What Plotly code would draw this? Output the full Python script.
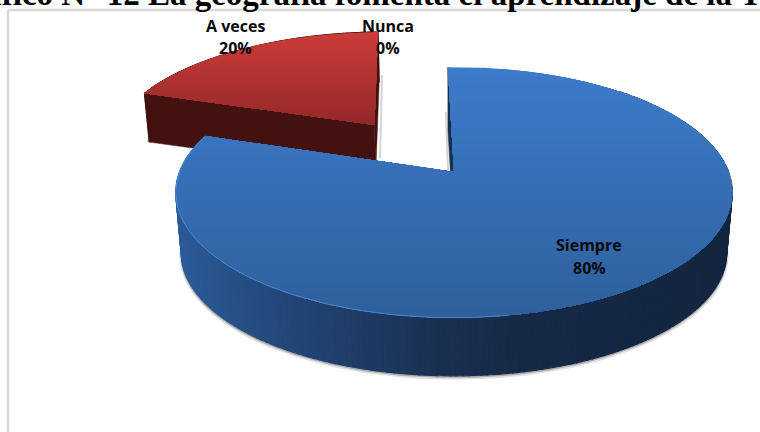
import numpy as np
import plotly.graph_objects as go

categories = ["Siempre", "A veces", "Nunca"]
values = [80, 20, 0]
percent_labels = ["80%", "20%", "0%"]
pulls = [0.0, 0.515, 0.0]
title_text = "Gráfico N° 12 La geografía fomenta el aprendizaje de la Tierra"

# projection of the tilted pie onto the pixel-sized axes
X0, Y0, R, K, P, DEPTH, SHRINK = 454, 172, 274.5, 122, 0.163, 61, 0.02
START = -1.5
RED_TURN = 1.5
BLUE_WIDEN = 1.5
RED_NARROW = 1.8


def hex2rgb(c):
    return np.array([int(c[i:i + 2], 16) for i in (1, 3, 5)], float)


def ramp(t, stops):
    ts = [s[0] for s in stops]
    rgb = [np.interp(t, ts, [hex2rgb(s[1])[i] for s in stops]) for i in range(3)]
    return "rgb(%d,%d,%d)" % tuple(rgb)


def project(a_deg, r, z, pull, mid_deg):
    a = np.radians(a_deg)
    m = np.radians(mid_deg)
    u = r * np.sin(a) + pull * np.sin(m)
    v = r * np.cos(a) + pull * np.cos(m)
    w = 1 + P * v
    s = 1 - SHRINK * z
    return X0 + s * R * u / w, Y0 + DEPTH * z - s * K * v / w


def clip_below(xs, ys, y0):
    ox, oy = [], []
    n = len(xs)
    for i in range(n):
        x1, y1, x2, y2 = xs[i], ys[i], xs[(i + 1) % n], ys[(i + 1) % n]
        if y1 >= y0:
            ox.append(x1)
            oy.append(y1)
        if (y1 >= y0) != (y2 >= y0):
            t = (y0 - y1) / (y2 - y1)
            ox.append(x1 + t * (x2 - x1))
            oy.append(y0)
    return ox, oy


fig = go.Figure()


def poly(xs, ys, color, lw=0.0, fill=True):
    fig.add_trace(go.Scatter(
        x=list(xs), y=list(ys), mode="lines", hoverinfo="skip", showlegend=False,
        fill="toself" if fill else None, fillcolor=color if fill else None,
        line=dict(color=color, width=lw)))


def stroke(xs, ys, color, lw):
    fig.add_trace(go.Scatter(x=list(xs), y=list(ys), mode="lines", hoverinfo="skip",
                             showlegend=False, line=dict(color=color, width=lw)))


def slab(a0, a1, pull, height, top_stops, side_fn, rim=None, shadow=None):
    mid = (a0 + a1) / 2
    angles = np.linspace(a0, a1, 260)
    if shadow:
        lo = angles[(angles > shadow[0]) & (angles < shadow[1])]
        sx, sy = project(lo, 1, height, pull, mid)
        stroke(sx, sy + 2, "rgba(90,90,90,0.18)", 4)
        stroke(sx, sy + 1.2, "rgba(70,70,70,0.35)", 2)
    # side wall, back to front
    order = sorted(range(len(angles) - 1), key=lambda i: -np.cos(np.radians(angles[i])))
    for i in order:
        a, b = angles[i], angles[i + 1]
        if np.cos(np.radians(a)) > 0.75 and pull == 0:
            continue
        xa, ya = project(a, 1, 0, pull, mid)
        xb, yb = project(b, 1, 0, pull, mid)
        xc, yc = project(b, 1, height, pull, mid)
        xd, yd = project(a, 1, height, pull, mid)
        poly([xa, xb, xc, xd, xa], [ya, yb, yc, yd, ya], side_fn((xa + xb) / 2), 1.2)
    # straight cut walls
    for a in (a0, a1):
        pts = [project(a, 1, 0, pull, mid), project(a, 0, 0, pull, mid),
               project(a, 0, height, pull, mid), project(a, 1, height, pull, mid)]
        xs = [p[0] for p in pts]
        ys = [p[1] for p in pts]
        poly(xs + xs[:1], ys + ys[:1], side_fn(sum(xs) / 4), 0.5)
    # top surface painted in vertical-gradient bands
    tx, ty = project(angles, 1.0, 0, pull, mid)
    ax, ay = project(0, 0, 0, pull, mid)
    xs = list(tx) + [ax]
    ys = list(ty) + [ay]
    y_min, y_max = min(ys), max(ys)
    for y in np.arange(y_min, y_max, 2.0):
        cx, cy = clip_below(xs, ys, y)
        if len(cx) > 2:
            t = (y - y_min) / (y_max - y_min)
            poly(cx + cx[:1], cy + cy[:1], ramp(t, top_stops), 0)
    if rim:
        arc = angles[(angles > rim[0]) & (angles < rim[1])]
        rx, ry = project(arc, 1, 0, pull, mid)
        stroke(rx, ry, rim[2], 1)


def blue_side(x):
    return ramp(x, [(176, "#2c5c9a"), (270, "#24497b"), (350, "#1f3d67"),
                    (440, "#1a3050"), (520, "#162a46"), (733, "#14263f")])


def red_side(x):
    return "#431210"


total = sum(values)
angle_of_red_start = START + RED_TURN + 360 * values[0] / total
angle_of_red_end = angle_of_red_start + 360 * values[1] / total - RED_NARROW

# soft drop shadows beside the cut edges
SHADOW = "#d4d4d4"
fig.add_shape(type="line", x0=382, x1=380, y0=75, y1=158, layer="below", line=dict(color=SHADOW, width=2))
fig.add_shape(type="line", x0=147, x1=196, y0=141, y1=141, layer="below", line=dict(color=SHADOW, width=2))
fig.add_shape(type="line", x0=446, x1=448, y0=112, y1=170, layer="below", line=dict(color=SHADOW, width=2))

slab(angle_of_red_start, angle_of_red_end, pulls[1], 0.78,
     [(0, "#cc3c39"), (1, "#93292a")], red_side)
slab(START, START + BLUE_WIDEN + 360 * values[0] / total, pulls[0], 1.0,
     [(0, "#3d7ccb"), (1, "#2f609c")], blue_side,
     rim=(170, 290, "#4d88d2"), shadow=(70, 290))

# frame of the chart area
FRAME = "#d9d9d9"
fig.add_shape(type="line", x0=8, x1=8, y0=10, y1=432, line=dict(color=FRAME, width=2.5))
fig.add_shape(type="line", x0=8, x1=760, y0=10, y1=10, line=dict(color=FRAME, width=2.5))

LABEL = dict(family="Open Sans, Noto Sans, sans-serif", size=16, color="#0a0a0a")
BOLD = dict(showarrow=False, xanchor="center", yanchor="middle", font=LABEL)
for (name, pct, x, y1, y2) in [
    (categories[1], percent_labels[1], 235, 26, 48),
    (categories[2], percent_labels[2], 388, 26, 48),
    (categories[0], percent_labels[0], 589, 245, 268),
]:
    fig.add_annotation(x=x, y=y1, text="<b>%s</b>" % name, **BOLD)
    fig.add_annotation(x=x, y=y2, text="<b>%s</b>" % pct, **BOLD)

fig.add_annotation(xref="paper", yref="paper", x=-0.075, y=1.0, yshift=6, text="<b>%s</b>" % title_text,
                   showarrow=False, xanchor="left", yanchor="middle",
                   font=dict(family="Liberation Serif, serif", size=33, color="#000000"))

fig.update_layout(
    width=760, height=432, margin=dict(l=0, r=0, t=0, b=0),
    paper_bgcolor="white", plot_bgcolor="white", showlegend=False,
    xaxis=dict(range=[0, 760], visible=False, fixedrange=True),
    yaxis=dict(range=[432, 0], visible=False, fixedrange=True),
)
fig.write_html("out.html", config=dict(displayModeBar=False),
               post_script="document.body.style.margin='0';document.body.style.overflow='hidden';")
